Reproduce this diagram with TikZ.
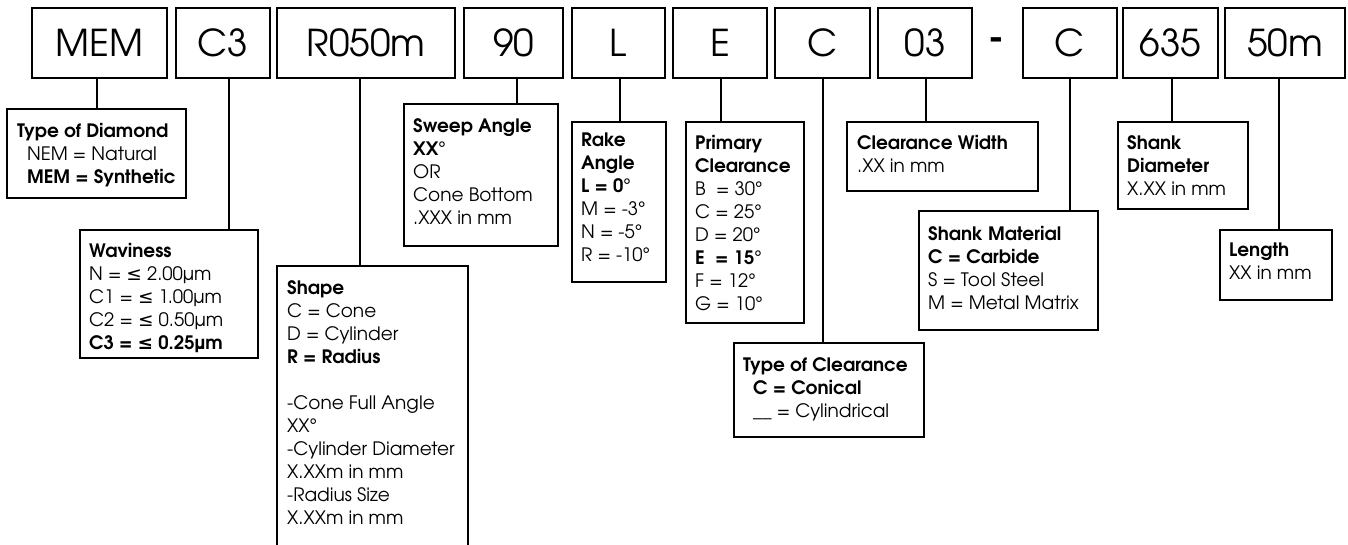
\documentclass[tikz,border=0pt]{standalone}
\usepackage{fontspec}
\setmainfont{TeX Gyre Adventor}
\newfontfamily\symfont{DejaVu Sans}
\newcommand\lsym{{\symfont ≤}}
\usetikzlibrary{fit}
\begin{document}
\begin{tikzpicture}[x=1pt,y=-1pt,
  topbox/.style={draw, line width=2.8pt, minimum height=70pt, inner sep=0pt, font=\fontsize{37}{42}\selectfont},
  descbox/.style={draw, line width=2.2pt, inner sep=0pt},
  desctext/.style={anchor=north west, inner sep=0pt, align=left, font=\fontsize{18.5}{23}\selectfont},
  link/.style={line width=2pt}]
\useasboundingbox (0,0) rectangle (1348,544);

% top code boxes
\node[topbox, minimum width=135pt] (mem) at (99.5,43) {MEM};
\node[topbox, minimum width=94pt] (c3) at (223,43) {C3};
\node[topbox, minimum width=178pt] (r050) at (366,43) {R050m};
\node[topbox, minimum width=99pt] (n90) at (513.5,43) {90};
\node[topbox, minimum width=93pt] (l) at (618.5,43) {L};
\node[topbox, minimum width=94pt] (e) at (720,43) {E};
\node[topbox, minimum width=95pt] (c) at (822.5,43) {C};
\node[topbox, minimum width=94pt] (n03) at (925,43) {03};
\node[font=\fontsize{37}{42}\selectfont\bfseries, inner sep=0pt] (dash) at (996.5,44) {-};
\node[topbox, minimum width=94pt] (c2) at (1070,43) {C};
\node[topbox, minimum width=95pt] (n635) at (1170.5,43) {635};
\node[topbox, minimum width=120pt] (n50) at (1285,43) {50m};

% description boxes
\node[descbox, fit={(7,109) (186,198)}] (diamond) {};
\node[desctext] (diamondt) at (17,123) {{\bfseries Type of Diamond}\\ \hspace*{10pt}NEM = Natural\\ \hspace*{10pt}{\bfseries MEM = Synthetic}};

\node[descbox, fit={(80,230) (258,358)}] (wavi) {};
\node[desctext] (wavit) at (89,243) {{\bfseries Waviness}\\ N = \lsym{} 2.00µm\\ C1 = \lsym{} 1.00µm\\ C2 = \lsym{} 0.50µm\\ {\bfseries C3 = \lsym{} 0.25µm}};

\node[descbox, fit={(277,266) (468,560)}] (shape) {};
\node[desctext] (shapet) at (287,280) {{\bfseries Shape}\\ C = Cone\\ D = Cylinder\\ {\bfseries R = Radius}\\[23pt] -Cone Full Angle\\ XX°\\ -Cylinder Diameter\\ X.XXm in mm\\ -Radius Size\\ X.XXm in mm};

\node[descbox, fit={(404,104) (558,246)}] (sweep) {};
\node[desctext] (sweept) at (413,118) {{\bfseries Sweep Angle}\\ {\bfseries XX}°\\ OR\\ Cone Bottom\\ .XXX in mm};

\node[descbox, fit={(572,122) (666,282)}] (rake) {};
\node[desctext] (raket) at (581,133) {{\bfseries Rake}\\ {\bfseries Angle}\\ {\bfseries L = 0}°\\ M = -3°\\ N = -5°\\ R = -10°};

\node[descbox, fit={(686,122) (804,323)}] (prim) {};
\node[desctext] (primt) at (695,135) {{\bfseries Primary}\\ {\bfseries Clearance}\\ B\ \ = 30°\\ C = 25°\\ D = 20°\\ {\bfseries E\ \ = 15}°\\ F = 12°\\ G = 10°};

\node[descbox, fit={(734,343) (924,437)}] (tclear) {};
\node[desctext] (tcleart) at (743,357) {{\bfseries Type of Clearance}\\ \hspace*{10pt}{\bfseries C = Conical}\\ \hspace*{10pt}\_\_ = Cylindrical};

\node[descbox, fit={(847,122) (1038,191)}] (cwidth) {};
\node[desctext] (cwidtht) at (857,135) {{\bfseries Clearance Width}\\ .XX in mm};

\node[descbox, fit={(919,211) (1098,330)}] (smat) {};
\node[desctext] (smatt) at (928,226) {{\bfseries Shank Material}\\ {\bfseries C = Carbide}\\ S = Tool Steel\\ M = Metal Matrix};

\node[descbox, fit={(1118,122) (1248,209)}] (sdia) {};
\node[desctext] (sdiat) at (1127,135) {{\bfseries Shank}\\ {\bfseries Diameter}\\ X.XX in mm};

\node[descbox, fit={(1220,230) (1332,300)}] (len) {};
\node[desctext] (lent) at (1229,243) {{\bfseries Length}\\ XX in mm};

% connectors
\draw[link] ([xshift=-2.5pt]mem.south) coordinate (a1) -- (a1 |- diamond.north);
\draw[link] ([xshift=6pt]c3.south) coordinate (a2) -- (a2 |- wavi.north);
\draw[link] ([xshift=-6pt]r050.south) coordinate (a3) -- (a3 |- shape.north);
\draw[link] ([xshift=3.5pt]n90.south) coordinate (a4) -- (a4 |- sweep.north);
\draw[link] ([xshift=1.5pt]l.south) coordinate (a5) -- (a5 |- rake.north);
\draw[link] ([xshift=1pt]e.south) coordinate (a6) -- (a6 |- prim.north);
\draw[link] ([xshift=0.5pt]c.south) coordinate (a7) -- (a7 |- tclear.north);
\draw[link] ([xshift=1pt]n03.south) coordinate (a8) -- (a8 |- cwidth.north);
\draw[link] (c2.south) coordinate (a9) -- (a9 |- smat.north);
\draw[link] ([xshift=1.5pt]n635.south) coordinate (a10) -- (a10 |- sdia.north);
\draw[link] ([xshift=-6pt]n50.south) coordinate (a11) -- (a11 |- len.north);
\end{tikzpicture}
\end{document}
